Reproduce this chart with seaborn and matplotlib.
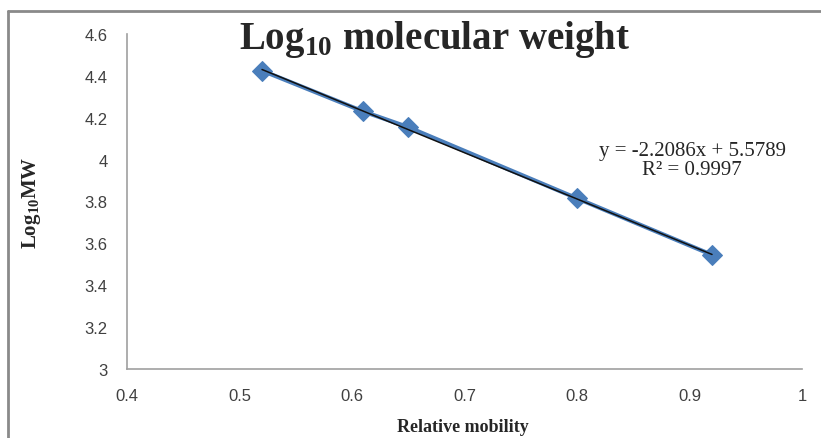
import numpy as np
import pandas as pd
import seaborn as sns
import matplotlib.pyplot as plt
from matplotlib.lines import Line2D

mobility = [0.52, 0.61, 0.65, 0.80, 0.92]
log_mw = [4.425, 4.23, 4.155, 3.815, 3.545]
slope = -2.2086
intercept = 5.5789
r2 = 0.9997
xticks = [0.4, 0.5, 0.6, 0.7, 0.8, 0.9, 1.0]
xtick_labels = ["0.4", "0.5", "0.6", "0.7", "0.8", "0.9", "1"]
yticks = [3.0, 3.2, 3.4, 3.6, 3.8, 4.0, 4.2, 4.4, 4.6]
ytick_labels = ["3", "3.2", "3.4", "3.6", "3.8", "4", "4.2", "4.4", "4.6"]

df = pd.DataFrame({"Relative mobility": mobility, "Log MW": log_mw})
trend = pd.DataFrame({"x": [mobility[0], mobility[-1]]})
trend["y"] = slope * trend["x"] + intercept

sns.set_style("white")
plt.rcParams["mathtext.fontset"] = "custom"
plt.rcParams["mathtext.rm"] = "Liberation Serif"
plt.rcParams["mathtext.bf"] = "Liberation Serif:bold"

fig = plt.figure(figsize=(8.21, 4.39), dpi=100)
ax = fig.add_axes([0.1547, 0.1572, 0.9769 - 0.1547, 0.9203 - 0.1572])

blue = "#4a7ebb"
sns.lineplot(data=df, x="Relative mobility", y="Log MW", ax=ax, color=blue,
             linewidth=3, marker="D", markersize=10, markeredgecolor=blue)
sns.lineplot(data=trend, x="x", y="y", ax=ax, color="#111111", linewidth=1.1)

ax.set_xlim(0.4, 1.0)
ax.set_ylim(3.0, 4.6)
ax.set_xticks(xticks)
ax.set_xticklabels(xtick_labels)
ax.set_yticks(yticks)
ax.set_yticklabels(ytick_labels)
for sp in ["top", "right"]:
    ax.spines[sp].set_visible(False)
for sp in ["left", "bottom"]:
    ax.spines[sp].set_color("#a0a0a0")
    ax.spines[sp].set_linewidth(1.2)
ax.tick_params(axis="both", direction="out", length=6, width=1.2, color="#a0a0a0",
               labelsize=12, labelcolor="#404040", pad=8)
for lab in ax.get_xticklabels() + ax.get_yticklabels():
    lab.set_family("Liberation Sans")

ax.set_xlabel("Relative mobility", family="Liberation Serif", fontweight="bold",
              fontsize=13)
ax.set_ylabel(r"Log$_{\mathbf{10}}$MW", family="Liberation Serif", fontweight="bold",
              fontsize=15)
ax.xaxis.set_label_coords(0.498, -0.145)
ax.yaxis.set_label_coords(-0.124, 0.5)

fig.text(0.529, 0.91, r"Log$_{\mathbf{10}}$ molecular weight", family="Liberation Serif",
         fontweight="bold", fontsize=28, ha="center", va="center")
fig.text(0.843, 0.633, f"y = {slope}x + {intercept}\nR² = {r2}",
         family="Liberation Serif", fontsize=15, ha="center", va="center", linespacing=1.0)

fig.add_artist(Line2D([0.0097, 0.0097], [0.0, 0.972], transform=fig.transFigure,
                      color="#8a8a8a", linewidth=2))
fig.add_artist(Line2D([0.0097, 1.0], [0.972, 0.972], transform=fig.transFigure,
                      color="#8a8a8a", linewidth=2))

fig.savefig("out.png", dpi=100)
